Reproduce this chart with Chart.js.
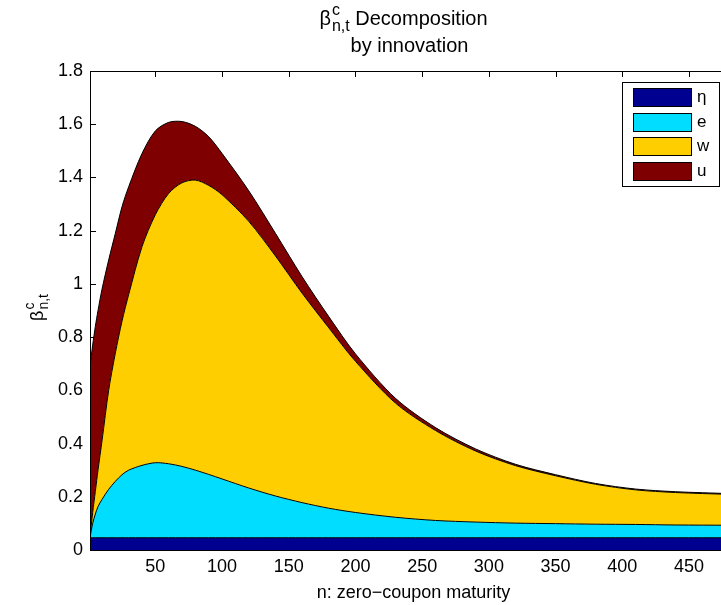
<!DOCTYPE html>
<html><head><meta charset="utf-8">
<script src="https://cdn.jsdelivr.net/npm/chart.js@4.4.1/dist/chart.umd.min.js"></script>
<style>html,body{margin:0;padding:0;overflow:hidden;background:#fff}#wrap{width:740px;height:605px}</style>
</head><body><div id="wrap"><canvas id="c" width="740" height="605"></canvas></div>
<script>
// ---- data ----
const maturities = [1,3,5,7,10,15,20,25,30,40,50,60,70,80,90,100,120,140,160,180,200,230,260,290,320,350,380,410,440,480];
const etaValues = [0.046,0.046,0.046,0.046,0.046,0.046,0.046,0.046,0.046,0.046,0.046,0.046,0.046,0.046,0.046,0.046,0.046,0.046,0.046,0.046,0.046,0.046,0.046,0.046,0.046,0.046,0.046,0.046,0.046,0.046];
const eValues = [0,0.054,0.089,0.117,0.144,0.182,0.212,0.237,0.254,0.272,0.282,0.278,0.268,0.254,0.238,0.221,0.187,0.157,0.132,0.111,0.095,0.077,0.065,0.059,0.055,0.053,0.051,0.05,0.048,0.047];
const wValues = [0,0.04,0.085,0.137,0.22,0.372,0.482,0.577,0.66,0.822,0.932,1.016,1.066,1.09,1.086,1.068,1.002,0.902,0.787,0.678,0.568,0.429,0.338,0.267,0.216,0.18,0.15,0.13,0.122,0.116];
const uValues = [0.644,0.63,0.62,0.60,0.57,0.49,0.45,0.43,0.405,0.35,0.315,0.267,0.23,0.202,0.183,0.155,0.115,0.085,0.062,0.042,0.028,0.018,0.011,0.008,0.005,0.004,0.003,0.003,0.003,0.003];
const seriesLabels = ['η','e','w','u'];
const seriesColors = ['#000090','#00DDFF','#FFCE00','#7F0000'];
const xTicks = [50,100,150,200,250,300,350,400,450];
const yTicks = [0,0.2,0.4,0.6,0.8,1,1.2,1.4,1.6,1.8];
const titleRest = ' Decomposition';
const titleLine2 = 'by innovation';
const xLabel = 'n: zero\u2212coupon maturity';

const FONT = '"Liberation Sans", Arial, Helvetica, sans-serif';
const FS = 18;
const TFS = 20;

const seriesValues = [etaValues, eValues, wValues, uValues];
const datasets = seriesValues.map((vals, k) => ({
  label: seriesLabels[k],
  data: maturities.map((n, i) => ({x: n, y: vals[i]})),
  backgroundColor: seriesColors[k],
  borderColor: '#000',
  borderWidth: 1,
  fill: k === 0 ? 'origin' : '-1',
  pointRadius: 0,
  tension: 0.3
}));

function drawBeta(ctx, x, y, fs, rest, measureOnly) {
  const sfs = Math.round(fs * 0.78);
  ctx.font = fs + 'px ' + FONT;
  const wb = ctx.measureText('\u03B2').width;
  const wr = rest ? ctx.measureText(rest).width : 0;
  ctx.font = sfs + 'px ' + FONT;
  const ws = Math.max(ctx.measureText('c').width, ctx.measureText('n,t').width);
  const total = wb + ws + 1 + wr;
  if (measureOnly) return total;
  ctx.textBaseline = 'alphabetic';
  ctx.textAlign = 'left';
  ctx.fillStyle = '#000';
  ctx.font = fs + 'px ' + FONT;
  ctx.fillText('\u03B2', x, y);
  ctx.font = sfs + 'px ' + FONT;
  ctx.fillText('c', x + wb + 1, y - fs * 0.5);
  ctx.fillText('n,t', x + wb + 1, y + fs * 0.28);
  if (rest) { ctx.font = fs + 'px ' + FONT; ctx.fillText(rest, x + wb + ws + 1, y); }
  return total;
}

const decor = {
  id: 'decor',
  beforeDatasetsDraw(chart) {
    const {ctx, chartArea: a, scales: {x, y}} = chart;
    ctx.save();
    ctx.strokeStyle = '#000';
    ctx.lineWidth = 1;
    ctx.beginPath();
    xTicks.forEach(v => {
      const px = Math.round(x.getPixelForValue(v)) + 0.5;
      ctx.moveTo(px, a.top); ctx.lineTo(px, a.top + 6);
      ctx.moveTo(px, a.bottom); ctx.lineTo(px, a.bottom - 6);
    });
    yTicks.forEach(v => {
      const py = Math.round(y.getPixelForValue(v)) + 0.5;
      ctx.moveTo(a.left, py); ctx.lineTo(a.left + 6, py);
      ctx.moveTo(a.right, py); ctx.lineTo(a.right - 6, py);
    });
    ctx.stroke();
    ctx.restore();
  },
  afterDatasetsDraw(chart) {
    const {ctx, chartArea: a} = chart;
    ctx.save();
    ctx.strokeStyle = '#000';
    ctx.lineWidth = 1;
    ctx.strokeRect(Math.round(a.left) + 0.5, Math.round(a.top) + 0.5, Math.round(a.right - a.left), Math.round(a.bottom - a.top));
    ctx.restore();
  },
  afterDraw(chart) {
    const {ctx, chartArea: a} = chart;
    ctx.save();
    // legend
    const lx = 622, ly = 82, lw = 97, lh = 104;
    ctx.fillStyle = '#fff';
    ctx.fillRect(lx, ly, lw, lh);
    ctx.strokeStyle = '#000'; ctx.lineWidth = 1;
    ctx.strokeRect(lx + 0.5, ly + 0.5, lw, lh);
    chart.data.datasets.forEach((ds, i) => {
      const sy = 88 + i * 24.7;
      ctx.fillStyle = ds.backgroundColor;
      ctx.fillRect(633, Math.round(sy), 58, 18);
      ctx.strokeRect(633.5, Math.round(sy) + 0.5, 58, 18);
      ctx.fillStyle = '#000';
      ctx.font = '17px ' + FONT;
      ctx.textAlign = 'left'; ctx.textBaseline = 'middle';
      ctx.fillText(ds.label, 697, Math.round(sy) + 9);
    });
    // title
    const cx = (a.left + a.right) / 2;
    const tw = drawBeta(ctx, 0, 0, TFS, titleRest, true);
    drawBeta(ctx, cx - tw / 2 - 6, 25, TFS, titleRest, false);
    ctx.font = TFS + 'px ' + FONT;
    ctx.textAlign = 'center'; ctx.textBaseline = 'alphabetic';
    ctx.fillStyle = '#000';
    ctx.fillText(titleLine2, cx, 52);
    // x label
    ctx.font = FS + 'px ' + FONT;
    ctx.fillText(xLabel, cx + 4, 598);
    // y label
    const yw = drawBeta(ctx, 0, 0, FS, '', true);
    ctx.translate(43, (a.top + a.bottom) / 2 - 3);
    ctx.rotate(-Math.PI / 2);
    drawBeta(ctx, -yw / 2, 0, FS, '', false);
    ctx.restore();
  }
};

new Chart(document.getElementById('c'), {
  type: 'line',
  data: {datasets},
  options: {
    responsive: false,
    animation: false,
    devicePixelRatio: 1,
    layout: {padding: {left: 0, top: 71, right: 11, bottom: 0}},
    plugins: {legend: {display: false}, tooltip: {enabled: false}, title: {display: false}},
    scales: {
      x: {
        type: 'linear', min: 1, max: 480,
        grid: {display: false, drawTicks: false},
        border: {display: false},
        afterBuildTicks: s => { s.ticks = xTicks.map(v => ({value: v})); },
        afterFit: s => { s.height = 55; },
        ticks: {color: '#000', font: {family: FONT, size: FS}, padding: 6, maxRotation: 0, autoSkip: false}
      },
      y: {
        stacked: true, min: 0, max: 1.8,
        grid: {display: false, drawTicks: false},
        border: {display: false},
        afterBuildTicks: s => { s.ticks = yTicks.map(v => ({value: v})); },
        afterFit: s => { s.width = 90; },
        ticks: {color: '#000', font: {family: FONT, size: FS}, padding: 7, callback: v => String(+Number(v).toFixed(1))}
      }
    }
  },
  plugins: [decor]
});
</script>
</body></html>
